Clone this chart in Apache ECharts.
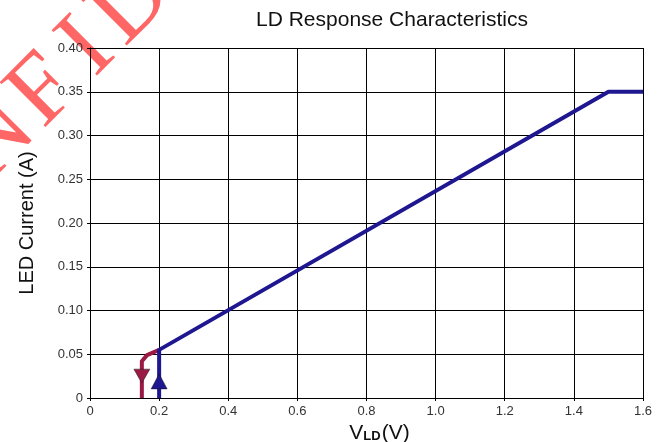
<!DOCTYPE html>
<html>
<head>
<meta charset="utf-8">
<script src="https://cdn.jsdelivr.net/npm/echarts@6/dist/echarts.min.js"></script>
<style>html,body{margin:0;padding:0;background:#fff}#c{width:666px;height:442px}</style>
</head>
<body>
<div id="c"></div>
<script>
// ---- data ----
var titleText = 'LD Response Characteristics';
var yAxisTitle = 'LED Current (A)';
var xTicks = [0, 0.2, 0.4, 0.6, 0.8, 1.0, 1.2, 1.4, 1.6];
var yTicks = [0, 0.05, 0.10, 0.15, 0.20, 0.25, 0.30, 0.35, 0.40];
// rising (blue) branch: V_LD, current
var riseV = [0.2, 0.2, 1.5, 1.6];
var riseI = [0, 0.055, 0.35, 0.35];
// falling (red) branch
var fallV = [0.15, 0.15, 0.165, 0.2];
var fallI = [0, 0.042, 0.049, 0.055];
// arrow markers
var upArrow = [0.2, 0.019];
var downArrow = [0.15, 0.025];
var watermark = 'CONFIDENTIAL';

function zip(a, b) { return a.map(function (v, i) { return [v, b[i]]; }); }

var chart = echarts.init(document.getElementById('c'));
var blue = '#1e1790';
var red = '#9a1a44';
var sans = 'Liberation Sans, Arial, sans-serif';

// watermark letters
var wmChildren = [];
var wmOffsets = [-205, -138, -68, 0, 62, 124, 196, 268, 332, 384, 440, 504];
for (var i = 0; i < watermark.length; i++) {
  wmChildren.push({
    type: 'text',
    x: wmOffsets[i], y: 0,
    style: {
      text: watermark[i],
      font: '98px "Liberation Serif", "DejaVu Serif", serif',
      fill: 'rgba(255,45,45,0.72)',
      align: 'center',
      verticalAlign: 'middle'
    }
  });
}

chart.setOption({
  animation: false,
  title: {
    text: titleText,
    left: 387, textAlign: 'center', top: 5,
    textStyle: { fontFamily: sans, fontSize: 21, fontWeight: 'normal', color: '#111' }
  },
  grid: { left: 90, right: 23, top: 48, bottom: 44, containLabel: false, outerBoundsMode: 'none' },
  xAxis: {
    type: 'value', min: 0, max: 1.6, interval: 0.2,
    name: '{v|V}{s|LD}{v|(V)}',
    nameLocation: 'middle', nameGap: 16,
    nameTextStyle: {
      padding: [0, 0, 0, 26],
      rich: {
        v: { fontSize: 21, lineHeight: 22, fontFamily: sans, color: '#111', verticalAlign: 'top' },
        s: { fontSize: 13, lineHeight: 22, fontWeight: 'bold', fontFamily: sans, color: '#111', padding: [6, 1, 0, 0] }
      }
    },
    axisLine: { lineStyle: { color: '#000', width: 1 } },
    axisTick: { show: true, length: 3, lineStyle: { color: '#000' } },
    splitLine: { show: true, lineStyle: { color: '#000', width: 1 } },
    axisLabel: {
      margin: 7, fontSize: 13, color: '#333', fontFamily: sans,
      formatter: function (v) { return v === 0 ? '0' : v.toFixed(1); }
    }
  },
  yAxis: {
    type: 'value', min: 0, max: 0.4, interval: 0.05,
    name: yAxisTitle, nameLocation: 'middle', nameGap: 53, nameRotate: 90,
    nameTextStyle: { fontSize: 20, color: '#111', fontFamily: sans },
    axisLine: { show: true, lineStyle: { color: '#000', width: 1 } },
    axisTick: { show: true, length: 3, lineStyle: { color: '#000' } },
    splitLine: { show: true, lineStyle: { color: '#000', width: 1 } },
    axisLabel: {
      margin: 7, fontSize: 13, color: '#333', fontFamily: sans,
      formatter: function (v) { return v === 0 ? '0' : v.toFixed(2); }
    }
  },
  series: [
    {
      type: 'line', data: zip(fallV, fallI), showSymbol: false, symbol: 'none',
      lineStyle: { color: red, width: 4, join: 'round' }, z: 3
    },
    {
      type: 'line', data: zip(riseV, riseI), showSymbol: false, symbol: 'none',
      lineStyle: { color: blue, width: 4, join: 'round' }, z: 4
    },
    {
      type: 'scatter', data: [upArrow], symbol: 'triangle', symbolSize: [16, 15],
      itemStyle: { color: blue, borderColor: '#111', borderWidth: 0.5, opacity: 1 }, z: 5
    },
    {
      type: 'scatter', data: [downArrow], symbol: 'triangle', symbolRotate: 180, symbolSize: [16, 14],
      itemStyle: { color: red, borderColor: '#222', borderWidth: 0.5, opacity: 1 }, z: 5
    }
  ],
  graphic: [{
    type: 'group',
    x: 44, y: 92,
    rotation: Math.PI / 4,
    z: 100,
    children: wmChildren
  }]
});
</script>
</body>
</html>
